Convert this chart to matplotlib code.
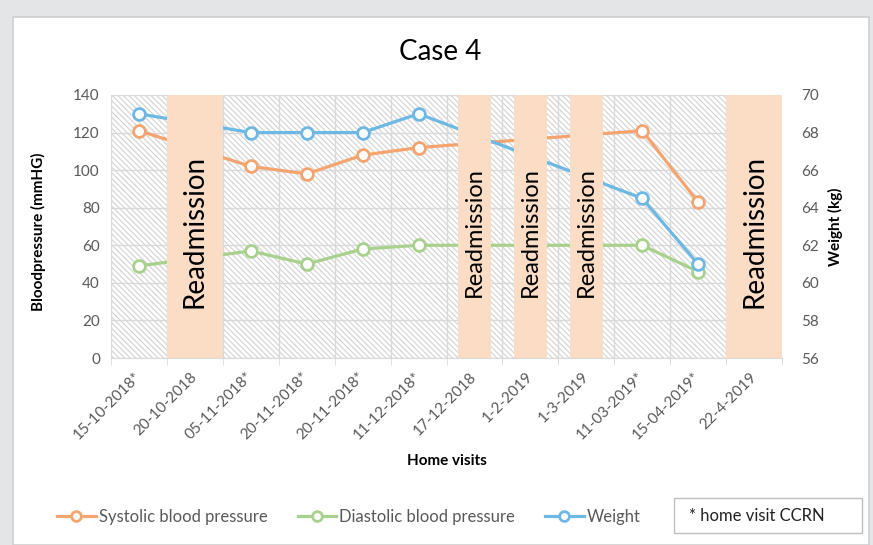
import matplotlib
matplotlib.use("Agg")
import matplotlib.pyplot as plt
from matplotlib.patches import Rectangle
from matplotlib.lines import Line2D
import numpy as np

plt.rcParams['font.family'] = ['Lato', 'DejaVu Sans']
plt.rcParams['hatch.linewidth'] = 0.8

# data
dates = ['15-10-2018*', '20-10-2018', '05-11-2018*', '20-11-2018*', '20-11-2018*',
         '11-12-2018*', '17-12-2018', '1-2-2019', '1-3-2019', '11-03-2019*',
         '15-04-2019*', '22-4-2019']
visit_idx = [0, 2, 3, 4, 5, 9, 10]
systolic = [121, 102, 98, 108, 112, 121, 83]
diastolic = [49, 57, 50, 58, 60, 60, 46]
weight = [69, 68, 68, 68, 69, 64.5, 61]
readmit_idx = [1, 6, 7, 8, 11]

# styles
c_sys = '#F4A46F'
c_dia = '#A9D18E'
c_wt = '#6DB8E4'
c_bar = '#FBDCC5'
c_grid = '#D9D9D9'
c_tick = '#595959'
readmit_w = [1.0, 0.6, 0.6, 0.6, 1.0]
readmit_fs = [20, 17, 17, 17, 20]

fig = plt.figure(figsize=(8.73, 5.45), dpi=100)
fig.patch.set_facecolor('#E4E5E6')
fig.patches.append(Rectangle((13 / 873, 0), 856 / 873, 1 - 17 / 545,
                             transform=fig.transFigure, facecolor='white',
                             edgecolor='#CFCFCF', lw=1.2, zorder=-5))

ax = fig.add_axes([111 / 873, 1 - 358 / 545, 671 / 873, 263 / 545])
ax.set_xlim(-0.5, 11.5)
ax.set_ylim(0, 140)
ax.set_yticks(np.arange(0, 141, 20))
ax.set_facecolor('none')
ax.add_patch(Rectangle((0, 0), 1, 1, transform=ax.transAxes, facecolor='white',
                       edgecolor='#D2D2D2', hatch='\\\\\\\\\\\\', lw=0, zorder=0))

ax.set_xticks(np.arange(len(dates)))
ax.set_xticklabels(dates, rotation=45, ha='right', va='center',
                   rotation_mode='anchor', color=c_tick, fontsize=11)
ax.set_xticks(np.arange(-0.5, len(dates)), minor=True)
ax.tick_params(axis='x', which='major', length=0, pad=12)
ax.tick_params(axis='x', which='minor', length=5, color=c_grid)
ax.tick_params(axis='y', length=0, labelcolor=c_tick, labelsize=11, pad=8)
ax.grid(axis='y', color=c_grid, lw=1, zorder=1)
ax.grid(axis='x', which='minor', color=c_grid, lw=1, zorder=1)
for s in ['left', 'right', 'top']:
    ax.spines[s].set_visible(False)
ax.spines['bottom'].set_color(c_grid)
ax.set_axisbelow(True)

ax.plot(visit_idx, systolic, color=c_sys, lw=2.3, marker='o', ms=8.5,
        mfc='white', mew=2, zorder=3)
ax.plot(visit_idx, diastolic, color=c_dia, lw=2.3, marker='o', ms=8.5,
        mfc='white', mew=2, zorder=3)

ax.set_ylabel('Bloodpressure (mmHG)', fontsize=11, fontweight='bold')
ax.yaxis.set_label_coords(-0.097, 0.48)
ax.set_xlabel('Home visits', fontsize=11, fontweight='bold', labelpad=8)

ax2 = ax.twinx()
ax2.set_ylim(56, 70)
ax2.set_yticks(np.arange(56, 71, 2))
ax2.tick_params(axis='y', length=0, labelcolor=c_tick, labelsize=11, pad=14)
for s in ax2.spines.values():
    s.set_visible(False)
ax2.plot(visit_idx, weight, color=c_wt, lw=2.3, marker='o', ms=8.5,
         mfc='white', mew=2, zorder=3)
ax2.bar(readmit_idx, 14, bottom=56, width=readmit_w, color=c_bar, zorder=4)
for i, fs in zip(readmit_idx, readmit_fs):
    ax2.text(i, 0.48, 'Readmission', transform=ax2.get_xaxis_transform(),
             rotation=90, ha='center', va='center', fontsize=fs, zorder=5)
ax2.set_ylabel('Weight (kg)', fontsize=11, fontweight='bold')
ax2.yaxis.set_label_coords(1.068, 0.5)

fig.text(440 / 873, 1 - 52 / 545, 'Case 4', ha='center', va='center', fontsize=20)

handles = [Line2D([], [], color=c, lw=2.3, marker='o', ms=7, mfc='white', mew=2)
           for c in (c_sys, c_dia, c_wt)]
leg = fig.legend(handles, ['Systolic blood pressure', 'Diastolic blood pressure', 'Weight'],
                 loc='center', bbox_to_anchor=(349 / 873, 1 - 517 / 545), ncol=3,
                 frameon=False, fontsize=12, handlelength=2.3, handletextpad=0.2,
                 columnspacing=1.8)
for t in leg.get_texts():
    t.set_color(c_tick)

fig.patches.append(Rectangle((674 / 873, 1 - 533 / 545), 188 / 873, 35 / 545,
                             transform=fig.transFigure, facecolor='white',
                             edgecolor='#BFBFBF', lw=1, zorder=2))
fig.text(689 / 873, 1 - 516 / 545, '* home visit CCRN', ha='left', va='center',
         fontsize=12, color='#222222')

fig.savefig('out.png', dpi=100, facecolor=fig.get_facecolor())
